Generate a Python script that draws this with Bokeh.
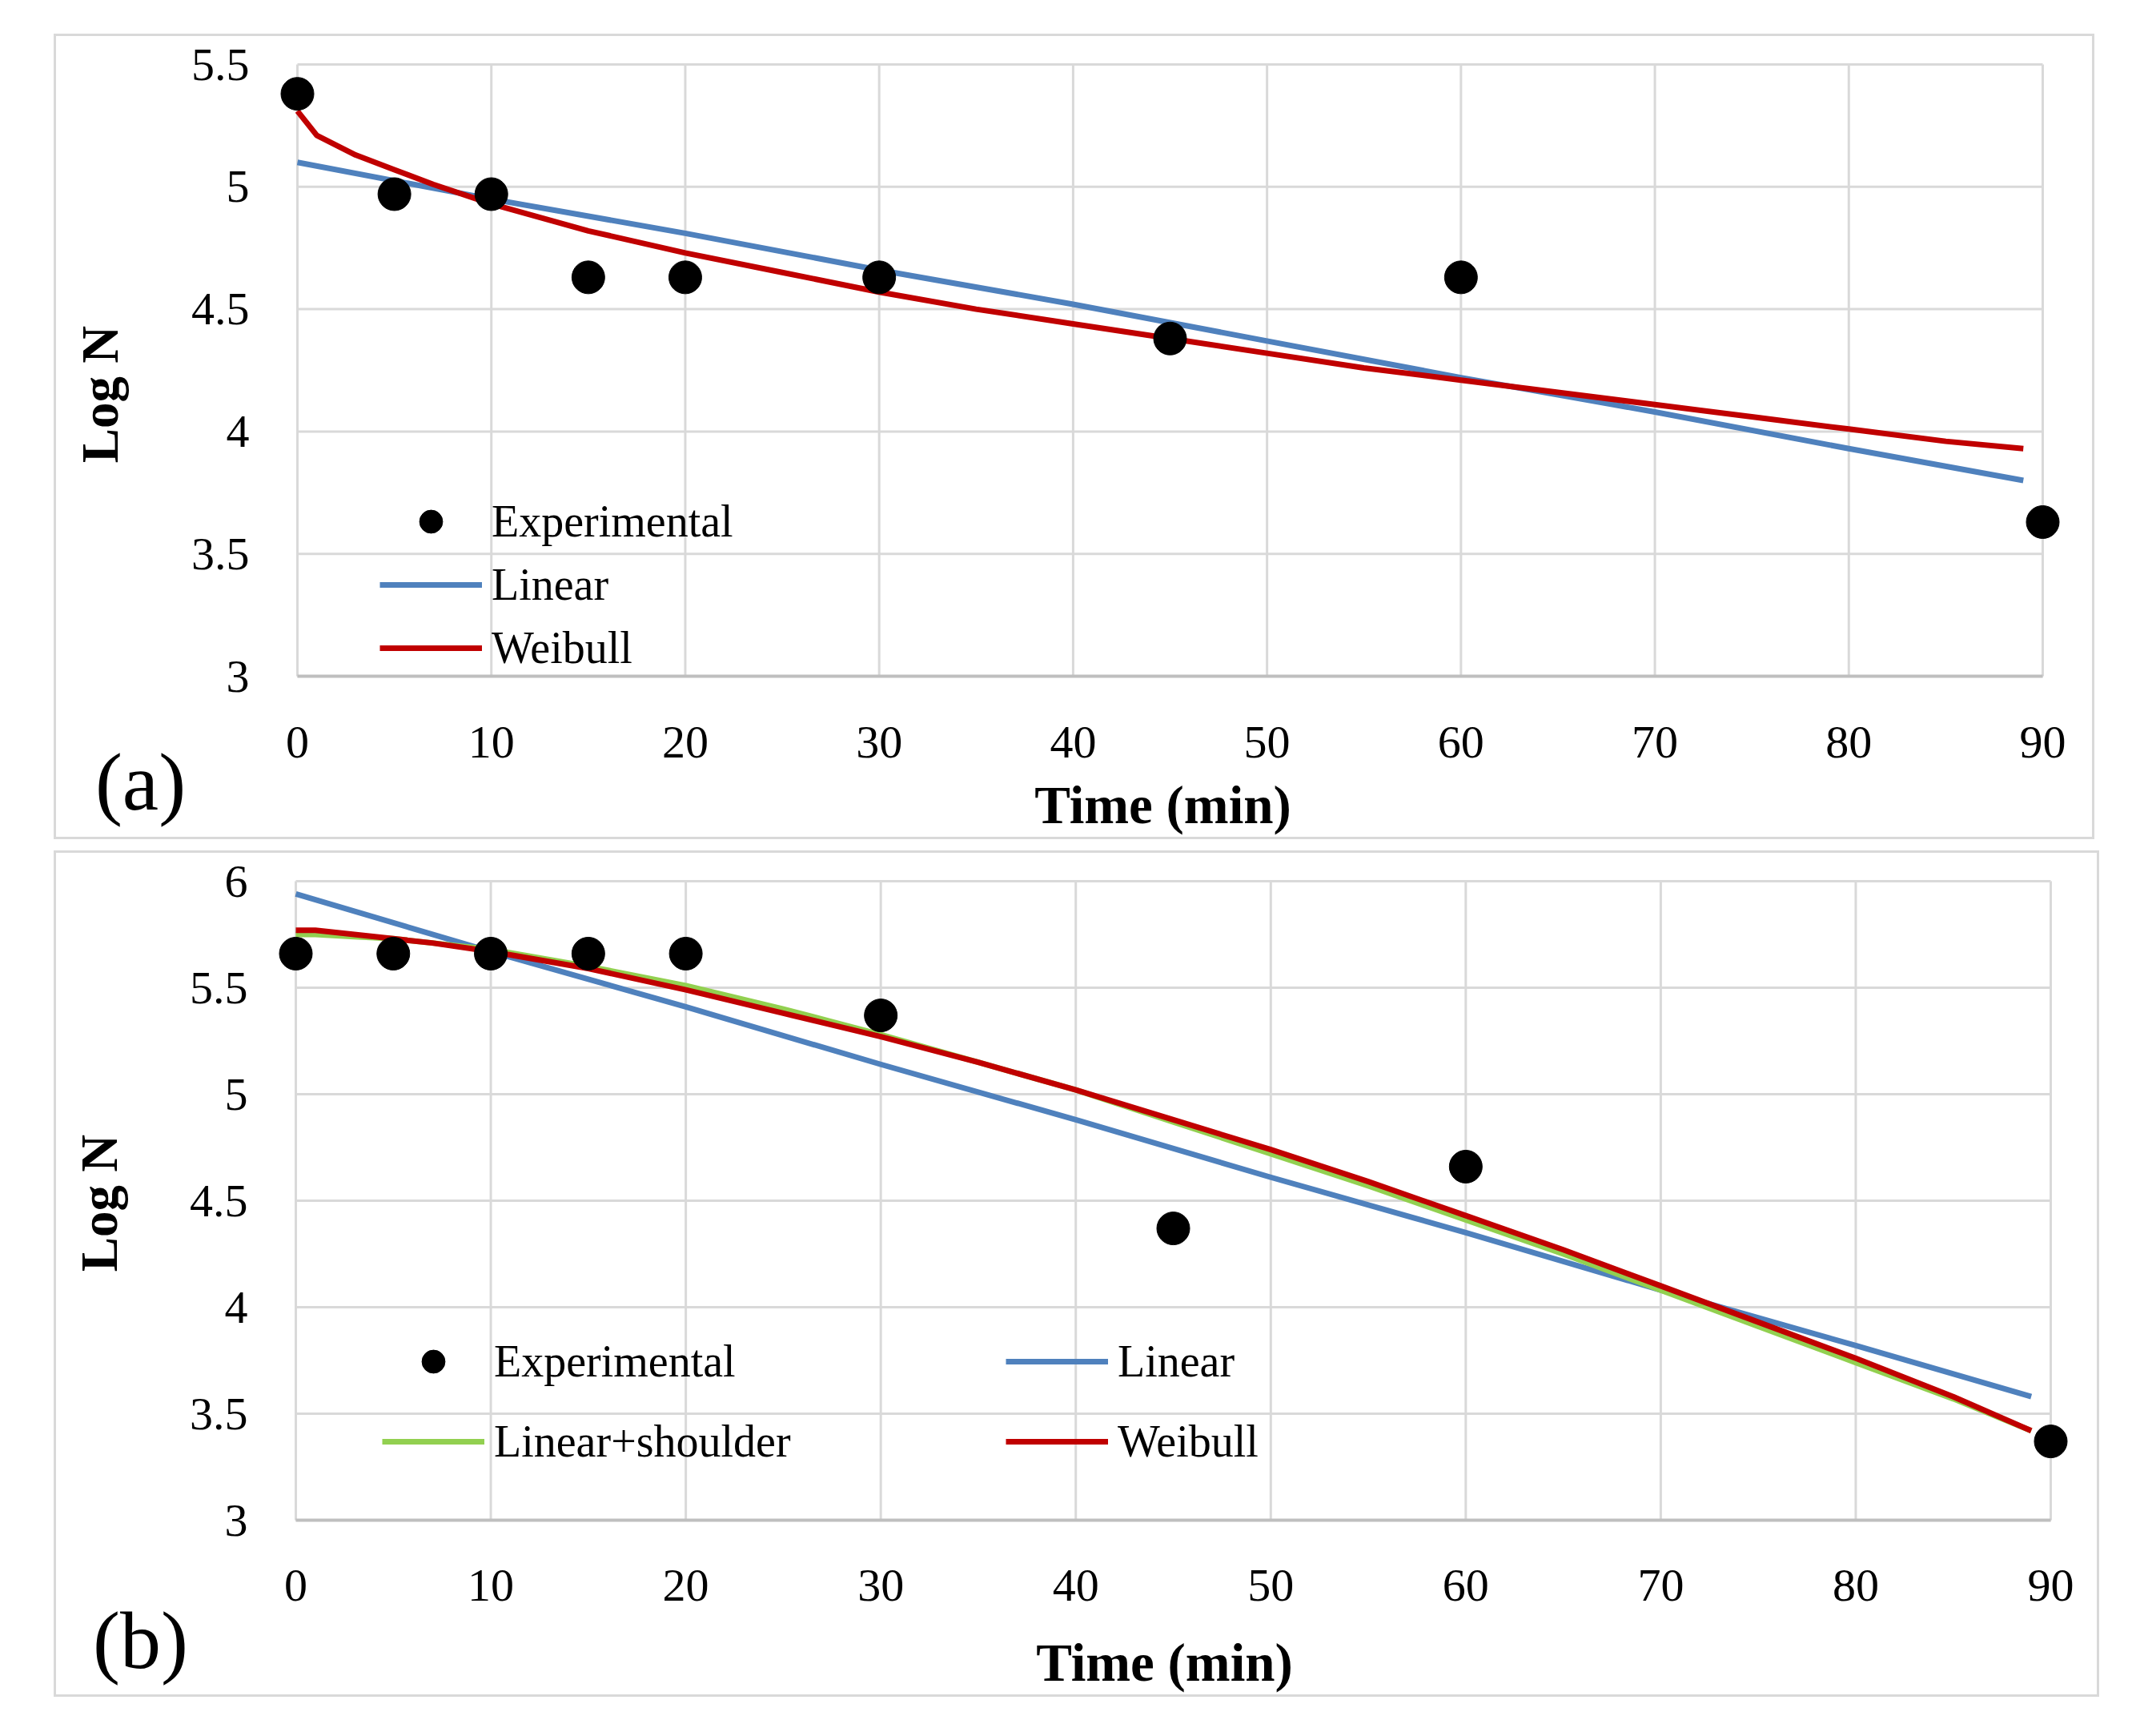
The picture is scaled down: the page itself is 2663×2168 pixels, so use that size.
import math
from bokeh.plotting import figure
from bokeh.models import Range1d, FixedTicker, Legend, LegendItem, Label
from bokeh.layouts import column
from bokeh.embed import file_html
from bokeh.resources import INLINE

# ---------------- data ----------------
time_exp = [0, 5, 10, 15, 20, 30, 45, 60, 90]
a_experimental = [5.38, 4.97, 4.97, 4.63, 4.63, 4.63, 4.38, 4.63, 3.63]
b_experimental = [5.66, 5.66, 5.66, 5.66, 5.66, 5.37, 4.37, 4.66, 3.37]

time_linear = [0, 10, 20, 30, 40, 50, 60, 70, 80, 89]
a_linear = [5.10, 4.95, 4.81, 4.66, 4.52, 4.37, 4.22, 4.08, 3.93, 3.80]
b_linear = [5.94, 5.67, 5.41, 5.14, 4.88, 4.61, 4.35, 4.08, 3.82, 3.58]

time_model = [0, 1, 3, 5, 7, 10, 15, 20, 25, 30, 35, 40, 45, 50, 55, 60, 65, 70, 75, 80, 85, 89]
a_weibull = [5.31, 5.21, 5.13, 5.07, 5.01, 4.93, 4.82, 4.73, 4.65, 4.57, 4.50, 4.44,
             4.38, 4.32, 4.26, 4.21, 4.16, 4.11, 4.06, 4.01, 3.96, 3.93]
b_weibull = [5.77, 5.77, 5.75, 5.73, 5.71, 5.67, 5.59, 5.49, 5.38, 5.27, 5.15, 5.02,
             4.88, 4.74, 4.59, 4.43, 4.27, 4.10, 3.93, 3.76, 3.58, 3.42]
b_shoulder = [5.75, 5.75, 5.74, 5.73, 5.71, 5.68, 5.60, 5.51, 5.40, 5.28, 5.15, 5.02,
              4.87, 4.72, 4.57, 4.41, 4.25, 4.08, 3.91, 3.74, 3.57, 3.42]

x_ticks = [0, 10, 20, 30, 40, 50, 60, 70, 80, 90]
x_labels = ["0", "10", "20", "30", "40", "50", "60", "70", "80", "90"]
a_y_ticks = [3, 3.5, 4, 4.5, 5, 5.5]
a_y_labels = ["3", "3.5", "4", "4.5", "5", "5.5"]
b_y_ticks = [3, 3.5, 4, 4.5, 5, 5.5, 6]
b_y_labels = ["3", "3.5", "4", "4.5", "5", "5.5", "6"]

# ---------------- style ----------------
FONT = "Liberation Serif"
GRID = "#d9d9d9"
AXIS = "#bfbfbf"
BLUE = "#4f81bd"
RED = "#c00000"
GREEN = "#92d050"
LW = 7
BW = 3          # panel border width

# ---------------- page geometry (pixels) ----------------
PANEL_LEFT = 67
PANEL_TOP = 42
A_BOX = dict(right=2622, bottom=1054)
B_BOX = dict(top=1068, right=2628, bottom=2131)
# plot-area pixel positions of first/last ticks
A_FRAME = dict(x0=371, x1=2551, y0=844, y1=80)
B_FRAME = dict(x0=369, x1=2561, y0=1904, y1=1106)


def make_panel(box_top, box, fr, y_ticks, y_labels, tag, tag_xy, xtitle_xy, ytitle_xy,
               tick_standoff):
    cl = PANEL_LEFT + BW
    ct = box_top + BW
    cw = box["right"] - PANEL_LEFT - 2 * BW
    ch = box["bottom"] - box_top - 2 * BW
    cr, cb = cl + cw, ct + ch
    kx = (x_ticks[-1] - x_ticks[0]) / (fr["x1"] - fr["x0"])
    ky = (y_ticks[-1] - y_ticks[0]) / (fr["y0"] - fr["y1"])

    def dx(px):
        return x_ticks[0] + (px - fr["x0"]) * kx

    def dy(py):
        return y_ticks[0] + (fr["y0"] - py) * ky

    p = figure(width=cw, height=ch, title=None,
               x_range=Range1d(dx(cl), dx(cr)), y_range=Range1d(dy(cb), dy(ct)),
               output_backend="svg", toolbar_location=None,
               min_border_left=0, min_border_right=0, min_border_top=0, min_border_bottom=0,
               styles={"border": "%dpx solid %s" % (BW, GRID)})
    p.outline_line_color = None
    p.background_fill_color = "white"
    p.border_fill_color = "white"
    p.xgrid.visible = False
    p.ygrid.visible = False

    # grid lines limited to the plot area
    nx, ny = len(x_ticks), len(y_ticks)
    p.segment(x0=x_ticks, x1=x_ticks, y0=[y_ticks[0]] * nx, y1=[y_ticks[-1]] * nx,
              line_color=GRID, line_width=3, level="underlay")
    p.segment(x0=[x_ticks[0]] * ny, x1=[x_ticks[-1]] * ny, y0=y_ticks, y1=y_ticks,
              line_color=GRID, line_width=3, level="underlay")

    # x axis
    xa = p.xaxis[0]
    xa.fixed_location = y_ticks[0]
    xa.ticker = FixedTicker(ticks=x_ticks)
    xa.major_label_overrides = dict(zip(x_ticks, x_labels))
    xa.bounds = (x_ticks[0], x_ticks[-1])
    xa.axis_line_color = AXIS
    xa.axis_line_width = 4
    xa.major_tick_line_color = None
    xa.minor_tick_line_color = None
    xa.major_tick_out = 0
    xa.major_tick_in = 0
    xa.major_label_standoff = tick_standoff
    xa.major_label_text_font = FONT
    xa.major_label_text_font_size = "58px"
    xa.major_label_text_color = "black"

    # y axis
    ya = p.yaxis[0]
    ya.fixed_location = x_ticks[0]
    ya.ticker = FixedTicker(ticks=y_ticks)
    ya.major_label_overrides = dict(zip(y_ticks, y_labels))
    ya.bounds = (y_ticks[0], y_ticks[-1])
    ya.axis_line_color = None
    ya.major_tick_line_color = None
    ya.minor_tick_line_color = None
    ya.major_tick_out = 0
    ya.major_tick_in = 0
    ya.major_label_standoff = 60
    ya.major_label_text_font = FONT
    ya.major_label_text_font_size = "58px"
    ya.major_label_text_color = "black"

    # axis titles and panel tag
    p.add_layout(Label(x=dx(xtitle_xy[0]), y=dy(xtitle_xy[1]), text="Time (min)",
                       text_font=FONT, text_font_style="bold", text_font_size="67px",
                       text_align="center", text_baseline="alphabetic", text_color="black"))
    p.add_layout(Label(x=dx(ytitle_xy[0]), y=dy(ytitle_xy[1]), text="Log N",
                       angle=math.pi / 2,
                       text_font=FONT, text_font_style="bold", text_font_size="65px",
                       text_align="center", text_baseline="alphabetic", text_color="black"))
    p.add_layout(Label(x=dx(tag_xy[0]), y=dy(tag_xy[1]), text=tag, text_font=FONT,
                       text_font_size="102px", text_align="center",
                       text_baseline="alphabetic", text_color="black"))
    return p, cl, cb


def legend(items, glyph_left, rows_bottom, cl, cb, spacing):
    return Legend(items=items, location=(glyph_left - cl, cb - rows_bottom),
                  orientation="vertical",
                  glyph_width=128, glyph_height=72, label_height=72,
                  label_standoff=12, spacing=spacing, padding=0, margin=0,
                  border_line_color=None, background_fill_alpha=0,
                  label_text_font=FONT, label_text_font_size="56px",
                  label_text_color="black")


# ---------------- panel (a) ----------------
pa, cla, cba = make_panel(PANEL_TOP, A_BOX, A_FRAME, a_y_ticks, a_y_labels,
                          "(a)", (175, 976), (1452, 1004), (124, 492), 63)
ra_lin = pa.line(time_linear, a_linear, line_color=BLUE, line_width=LW, line_join="round")
ra_wei = pa.line(time_model, a_weibull, line_color=RED, line_width=LW, line_join="round")
ra_exp = pa.scatter(time_exp, a_experimental, size=41, color="black")
pa.add_layout(legend([LegendItem(label="Experimental", renderers=[ra_exp]),
                      LegendItem(label="Linear", renderers=[ra_lin]),
                      LegendItem(label="Weibull", renderers=[ra_wei])],
                     474, 845, cla, cba, 7))

# ---------------- panel (b) ----------------
pb, clb, cbb = make_panel(B_BOX["top"], B_BOX, B_FRAME, b_y_ticks, b_y_labels,
                          "(b)", (175, 2054), (1454, 2081), (123, 1508), 62)
rb_lin = pb.line(time_linear, b_linear, line_color=BLUE, line_width=LW, line_join="round")
rb_sh = pb.line(time_model, b_shoulder, line_color=GREEN, line_width=LW, line_join="round")
rb_wei = pb.line(time_model, b_weibull, line_color=RED, line_width=LW, line_join="round")
rb_exp = pb.scatter(time_exp, b_experimental, size=41, color="black")
pb.add_layout(legend([LegendItem(label="Experimental", renderers=[rb_exp]),
                      LegendItem(label="Linear+shoulder", renderers=[rb_sh])],
                     477, 1842, clb, cbb, 28))
pb.add_layout(legend([LegendItem(label="Linear", renderers=[rb_lin]),
                      LegendItem(label="Weibull", renderers=[rb_wei])],
                     1256, 1842, clb, cbb, 28))

layout = column(pa, pb, spacing=B_BOX["top"] - A_BOX["bottom"],
                margin=(PANEL_TOP, 0, 0, PANEL_LEFT))
open("out.html", "w").write(file_html(layout, INLINE))
